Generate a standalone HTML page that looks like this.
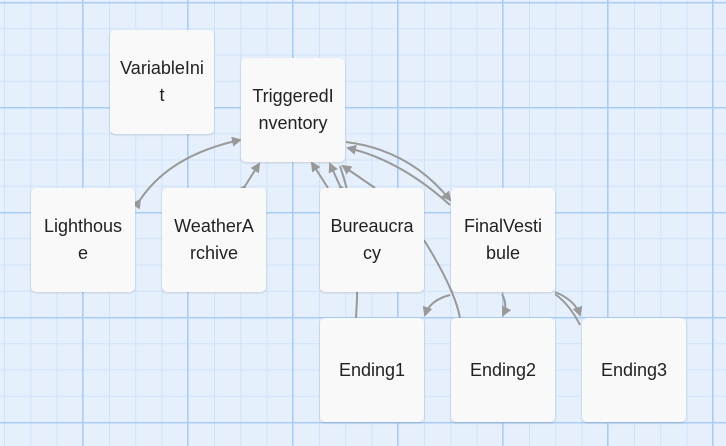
<!DOCTYPE html>
<html><head><style>
body{margin:0;width:726px;height:446px;overflow:hidden;background:#e6f0fd;position:relative;font-family:"Liberation Sans",sans-serif}
.g{position:absolute;inset:0;background-image:
linear-gradient(to right,#a9ccf5 1.5px,transparent 1.5px),
linear-gradient(to bottom,#a9ccf5 1.5px,transparent 1.5px),
linear-gradient(to right,#cfe2f9 1px,transparent 1px),
linear-gradient(to bottom,#cfe2f9 1px,transparent 1px);
background-size:105px 105px,105px 105px,26.25px 26.25px,26.25px 26.25px;
background-position:82px 0,0 2px,4px 0,0 2px}
.n{position:absolute;width:104px;height:104px;background:#f9f9f9;border-radius:5px;box-shadow:0 1px 2px rgba(0,0,0,.15);display:flex;align-items:center;justify-content:center;text-align:center;font-size:18px;line-height:27px;color:#222;white-space:nowrap;box-sizing:border-box}
svg{position:absolute;left:0;top:0}
</style></head><body>
<div class="g"></div>
<svg width="726" height="446">
<defs><marker id="a" markerWidth="10" markerHeight="10" refX="8" refY="5" orient="auto" markerUnits="userSpaceOnUse"><path d="M0,0 L10,5 L0,10z" fill="#999"/></marker></defs>
<g fill="none" stroke="#999" stroke-width="2">
<path d="M140,200 Q170,155 240,140" marker-start="url(#a)" marker-end="url(#a)"/>
<path d="M245,186 L259,164" marker-start="url(#a)" marker-end="url(#a)"/>
<path d="M328,188 L312,163" marker-end="url(#a)"/>
<path d="M340,186 L330,164" marker-start="url(#a)" marker-end="url(#a)"/>
<path d="M375,188 L343,166" marker-end="url(#a)"/>
<path d="M356,318 Q362,230 340,166"/>
<path d="M450,205 Q400,160 348,148" marker-end="url(#a)"/>
<path d="M346,142 Q410,150 450,200" marker-end="url(#a)"/>
<path d="M424,240 Q455,290 460,318"/>
<path d="M450,295 Q430,300 425,315" marker-end="url(#a)"/>
<path d="M502,294 Q508,305 503,315" marker-end="url(#a)"/>
<path d="M555,292 Q575,300 580,315" marker-end="url(#a)"/>
<path d="M555,294 Q570,305 580,325"/>
</g></svg>
<div class="n" style="left:110px;top:30px">VariableIni<br>t</div>
<div class="n" style="left:241px;top:58px">TriggeredI<br>nventory</div>
<div class="n" style="left:31px;top:188px">Lighthous<br>e</div>
<div class="n" style="left:162px;top:188px">WeatherA<br>rchive</div>
<div class="n" style="left:320px;top:188px">Bureaucra<br>cy</div>
<div class="n" style="left:451px;top:188px">FinalVesti<br>bule</div>
<div class="n" style="left:320px;top:318px">Ending1</div>
<div class="n" style="left:451px;top:318px">Ending2</div>
<div class="n" style="left:582px;top:318px">Ending3</div>
</body></html>
